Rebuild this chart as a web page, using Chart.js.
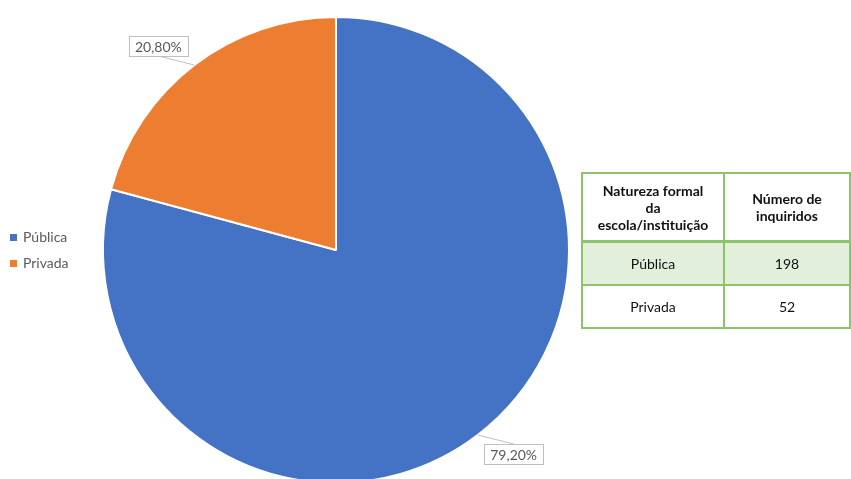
<!DOCTYPE html>
<html><head><meta charset="utf-8">
<script src="https://cdn.jsdelivr.net/npm/chart.js@4.4.1/dist/chart.umd.min.js"></script>
<style>
html,body{margin:0;padding:0;background:#fff;width:851px;height:479px;overflow:hidden;position:relative;font-family:Lato,"Open Sans",sans-serif;}
#c{position:absolute;left:0;top:0;}
.legend{position:absolute;left:10px;font-size:14px;color:#595959;line-height:16px;}
.legend span.sw{display:inline-block;width:7px;height:7px;margin-right:6px;vertical-align:1px;}
table{position:absolute;left:581px;top:172px;width:270px;border-collapse:collapse;font-family:Lato,"Open Sans",sans-serif;font-size:14px;color:#111;}
td,th{border:2px solid #8CC36B;text-align:center;padding:0;}
th{font-weight:bold;height:66px;line-height:17px;border-bottom:3px solid #8CC36B;}
td{height:41px;}
tr.g td{background:#E2EFDA;}
</style></head>
<body>
<canvas id="c" width="851" height="500"></canvas>
<div id="legend"></div>
<table id="tbl"></table>
<script>
const categories = ['Pública', 'Privada'];
const counts = [198, 52];
const colors = ['#4472C4', '#ED7D31'];
const headers = ['Natureza formal<br>da<br>escola/instituição', 'Número de<br>inquiridos'];

const total = counts.reduce((a, b) => a + b, 0);
const pctText = v => (v / total * 100).toFixed(2).replace('.', ',') + '%';

// legend
const lg = document.getElementById('legend');
categories.forEach((c, i) => {
  const d = document.createElement('div');
  d.className = 'legend';
  d.style.top = (229 + i * 26) + 'px';
  d.innerHTML = '<span class="sw" style="background:' + colors[i] + '"></span>' + c;
  lg.appendChild(d);
});

// table
const tbl = document.getElementById('tbl');
let html = '<tr><th style="width:140px">' + headers[0] + '</th><th>' + headers[1] + '</th></tr>';
categories.forEach((c, i) => {
  html += '<tr' + (i === 0 ? ' class="g"' : '') + '><td>' + c + '</td><td>' + counts[i] + '</td></tr>';
});
tbl.innerHTML = html;

const labelPlugin = {
  id: 'boxLabels',
  afterDatasetsDraw(chart) {
    const ctx = chart.ctx;
    const meta = chart.getDatasetMeta(0);
    ctx.save();
    ctx.font = '14px Lato, "Open Sans", sans-serif';
    meta.data.forEach((arc, i) => {
      const p = arc.getProps(['x', 'y', 'startAngle', 'endAngle', 'outerRadius']);
      const mid = (p.startAngle + p.endAngle) / 2;
      const ex = p.x + Math.cos(mid) * p.outerRadius;
      const ey = p.y + Math.sin(mid) * p.outerRadius;
      const sx = Math.sign(Math.cos(mid)), sy = Math.sign(Math.sin(mid));
      const cx = ex + sx * 36, cy = ey + sy * 19;
      const txt = pctText(counts[i]);
      const tw = ctx.measureText(txt).width;
      const bw = tw + 12, bh = 20;
      const bx = cx - bw / 2, by = cy - bh / 2;
      ctx.strokeStyle = '#BFBFBF';
      ctx.lineWidth = 1;
      ctx.beginPath();
      ctx.moveTo(ex, ey);
      ctx.lineTo(cx, sy > 0 ? by : by + bh);
      ctx.stroke();
      ctx.fillStyle = '#fff';
      ctx.fillRect(bx, by, bw, bh);
      ctx.strokeStyle = '#BFBFBF';
      ctx.strokeRect(Math.round(bx) + 0.5, Math.round(by) + 0.5, Math.round(bw), bh);
      ctx.fillStyle = '#595959';
      ctx.textAlign = 'center';
      ctx.textBaseline = 'middle';
      ctx.fillText(txt, cx, cy + 1);
    });
    ctx.restore();
  }
};

new Chart(document.getElementById('c'), {
  type: 'pie',
  data: {
    labels: categories,
    datasets: [{ data: counts, backgroundColor: colors, borderColor: '#ffffff', borderWidth: 2 }]
  },
  options: {
    responsive: false,
    animation: false,
    layout: { padding: { top: 16, bottom: 16, left: 102, right: 281 } },
    plugins: { legend: { display: false }, tooltip: { enabled: false } }
  },
  plugins: [labelPlugin]
});
</script>
</body></html>
